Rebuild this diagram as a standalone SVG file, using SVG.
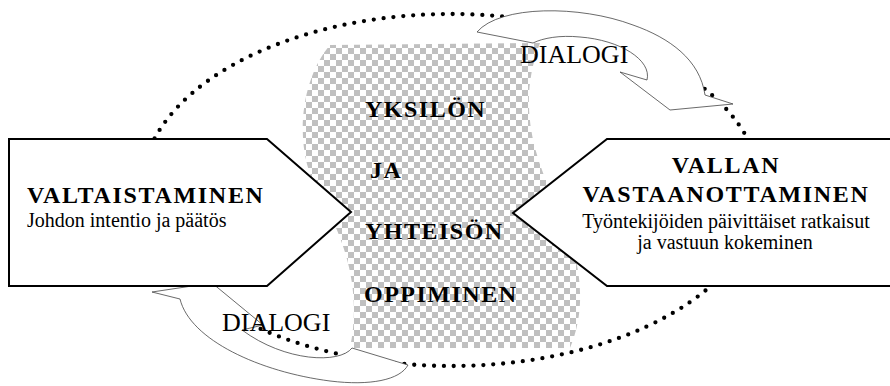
<svg xmlns="http://www.w3.org/2000/svg" width="890" height="386" viewBox="0 0 890 386">
<defs>
<pattern id="chk" x="0" y="0" width="12" height="12" patternUnits="userSpaceOnUse">
<rect width="12" height="12" fill="#ffffff"/>
<rect width="6" height="6" fill="#c0c0c0"/>
<rect x="6" y="6" width="6" height="6" fill="#c0c0c0"/>
</pattern>
</defs>
<style>
.dots{fill:none;stroke:#000;stroke-width:4.3;stroke-linecap:round;stroke-dasharray:0 9.9}
.arrow{fill:#fff;stroke:#444;stroke-width:0.8;stroke-linejoin:miter}
.box{fill:#fff;stroke:#000;stroke-width:2}
text{font-family:"Liberation Serif","Tinos","Times New Roman","Nimbus Roman","DejaVu Serif",serif;fill:#000}
.h{font-weight:bold;font-size:24px;letter-spacing:1.7px}
.s{font-size:20px}
.c{font-weight:bold;font-size:24px;letter-spacing:1.5px}
.d{font-size:26px}
</style>
<g id="cycle">
<ellipse class="dots" cx="451" cy="190" rx="310" ry="176"/>
</g>
<g id="learning">
<path d="M330,45 C300,80 292,150 320,195 C345,240 362,290 350,348 L570,348 C590,300 578,250 555,200 C525,140 522,90 540,43 Z" fill="url(#chk)"/>
<text class="c" x="365" y="117">YKSILÖN</text>
<text class="c" x="370" y="178">JA</text>
<text class="c" x="365" y="239">YHTEISÖN</text>
<text class="c" x="364" y="302">OPPIMINEN</text>
</g>
<g id="connectors">
<path class="arrow" d="M477,32 C500,5 580,5 633,25 C670,38 700,60 705,95 L733,104 L670,110 L620,72 L647,80 C652,60 620,40 580,37 C560,35 543,38 533,43 Z"/>
<path class="arrow" d="M212,283 L152,292 L180,299 C190,340 260,372 330,381 C370,386 400,380 408,365 L352,348 C340,364 285,362 242,330 L263,325 Z"/>
<text class="d" x="520" y="63">DIALOGI</text>
<text class="d" x="222" y="331">DIALOGI</text>
</g>
<g id="valtaistaminen">
<polygon class="box" points="9,139 267,139 351,212 267,286 9,286"/>
<text class="h" x="27" y="203">VALTAISTAMINEN</text>
<text class="s" x="27" y="227">Johdon intentio ja päätös</text>
</g>
<g id="vallan">
<polygon class="box" points="607,139 896,139 896,286 607,286 513,213"/>
<text class="h" x="726" y="173" text-anchor="middle">VALLAN</text>
<text class="h" x="726" y="202" text-anchor="middle">VASTAANOTTAMINEN</text>
<text class="s" x="726" y="228" text-anchor="middle">Työntekijöiden päivittäiset ratkaisut</text>
<text class="s" x="725" y="249" text-anchor="middle">ja vastuun kokeminen</text>
</g>
</svg>
